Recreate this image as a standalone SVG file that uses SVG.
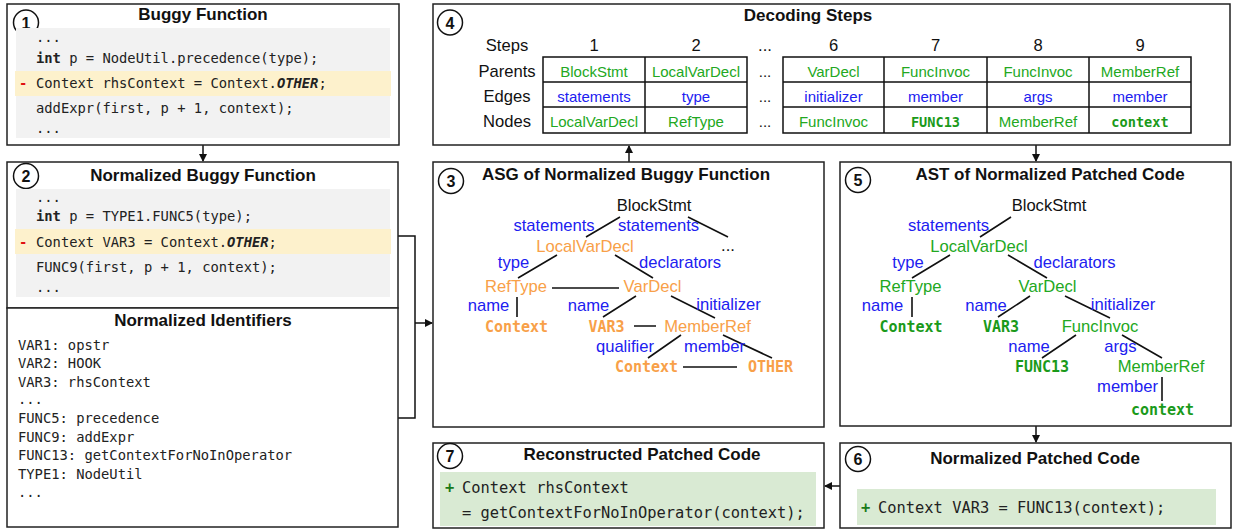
<svg xmlns="http://www.w3.org/2000/svg" width="1233" height="529" viewBox="0 0 1233 529">
<style>
.box{fill:#fff;stroke:#222;stroke-width:1.5}
.circ{fill:#fff;stroke:#111;stroke-width:1.5}
.num{font-family:"Liberation Sans",Arial,sans-serif;font-weight:bold;font-size:16px;text-anchor:middle;fill:#111}
.title{font-family:"Liberation Sans",Arial,sans-serif;font-weight:bold;font-size:17px;text-anchor:middle;fill:#111}
.code{font-family:"DejaVu Sans Mono","Liberation Mono",monospace;font-size:13.8px;fill:#222}
.codeL{font-family:"DejaVu Sans Mono","Liberation Mono",monospace;font-size:15.4px;fill:#222}
.gray{fill:#f2f2f2}
.hl{fill:#fdf1cc}
.grn{fill:#d9ead3}
.minus{fill:#e01010;font-weight:bold}
.plus{fill:#1a7a1a;font-weight:bold}
.lab{font-family:"Liberation Sans",Arial,sans-serif;font-size:16.6px;text-anchor:middle;fill:#111}
.cell{font-family:"Liberation Sans",Arial,sans-serif;font-size:15px;text-anchor:middle}
.cellm{font-family:"DejaVu Sans Mono","Liberation Mono",monospace;font-size:13.6px;font-weight:bold;text-anchor:middle;fill:#1a9a1a}
.g{fill:#22a822}
.b{fill:#2020f0}
.t{font-family:"Liberation Sans",Arial,sans-serif;font-size:16.6px;text-anchor:middle}
.tm{font-family:"DejaVu Sans Mono","Liberation Mono",monospace;font-size:15px;font-weight:bold;text-anchor:middle}
.o{fill:#f8a048}
.gd{fill:#1a9a1a}
.k{fill:#111}
.e{stroke:#111;stroke-width:1.6;fill:none}
.tbl{fill:none;stroke:#111;stroke-width:1.5}
.conn{stroke:#111;stroke-width:1.5;fill:none}
</style>
<defs>
<marker id="arr" markerWidth="8" markerHeight="8" refX="7" refY="4" orient="auto" markerUnits="userSpaceOnUse">
<path d="M0,0 L8,4 L0,8 Z" fill="#111"/>
</marker>
</defs>

<g id="connectors">
<line class="conn" x1="203" y1="145" x2="203" y2="161" marker-end="url(#arr)"/>
<polyline class="conn" points="398,236 415,236 415,418 398,418"/>
<line class="conn" x1="415" y1="323" x2="432" y2="323" marker-end="url(#arr)"/>
<line class="conn" x1="629" y1="162" x2="629" y2="146" marker-end="url(#arr)"/>
<line class="conn" x1="1036" y1="145" x2="1036" y2="161" marker-end="url(#arr)"/>
<line class="conn" x1="1036" y1="426" x2="1036" y2="442" marker-end="url(#arr)"/>
<line class="conn" x1="840" y1="486" x2="825" y2="486" marker-end="url(#arr)"/>
</g>

<g id="node1">
<rect class="box" x="7" y="4" width="392" height="141"/>
<circle class="circ" cx="26" cy="22.5" r="12.5"/>
<text class="num" x="26" y="28.5">1</text>
<text class="title" x="203" y="20">Buggy Function</text>
<rect class="gray" x="16" y="28" width="374" height="110"/>
<rect class="hl" x="15" y="71" width="376" height="25"/>
<text class="code" x="36" y="42">...</text>
<text class="code" x="36" y="63" xml:space="preserve"><tspan font-weight="bold">int</tspan> p = NodeUtil.precedence(type);</text>
<text class="code minus" x="19" y="88">-</text>
<text class="code" x="36" y="88" xml:space="preserve">Context rhsContext = Context.<tspan font-weight="bold" font-style="italic">OTHER</tspan>;</text>
<text class="code" x="36" y="113">addExpr(first, p + 1, context);</text>
<text class="code" x="36" y="133">...</text>
</g>

<g id="node2">
<rect class="box" x="7" y="162" width="391" height="146"/>
<circle class="circ" cx="26" cy="176" r="12.5"/>
<text class="num" x="26" y="182">2</text>
<text class="title" x="203" y="181">Normalized Buggy Function</text>
<rect class="gray" x="16" y="189" width="374" height="108"/>
<rect class="hl" x="15" y="229" width="376" height="25"/>
<text class="code" x="36" y="202">...</text>
<text class="code" x="36" y="221" xml:space="preserve"><tspan font-weight="bold">int</tspan> p = TYPE1.FUNC5(type);</text>
<text class="code minus" x="19" y="247">-</text>
<text class="code" x="36" y="247" xml:space="preserve">Context VAR3 = Context.<tspan font-weight="bold" font-style="italic">OTHER</tspan>;</text>
<text class="code" x="36" y="272">FUNC9(first, p + 1, context);</text>
<text class="code" x="36" y="292">...</text>
</g>

<g id="identifiers">
<rect class="box" x="7" y="308" width="391" height="219"/>
<text class="title" x="203" y="326">Normalized Identifiers</text>
<text class="code" x="18" y="350">VAR1: opstr</text>
<text class="code" x="18" y="368">VAR2: HOOK</text>
<text class="code" x="18" y="387">VAR3: rhsContext</text>
<text class="code" x="18" y="404">...</text>
<text class="code" x="18" y="423">FUNC5: precedence</text>
<text class="code" x="18" y="442">FUNC9: addExpr</text>
<text class="code" x="18" y="460">FUNC13: getContextForNoInOperator</text>
<text class="code" x="18" y="479">TYPE1: NodeUtil</text>
<text class="code" x="18" y="497">...</text>
</g>

<g id="node4">
<rect class="box" x="433" y="4" width="797" height="141"/>
<circle class="circ" cx="450" cy="22.5" r="12.5"/>
<text class="num" x="450" y="28.5">4</text>
<text class="title" x="808" y="21" font-size="18.5">Decoding Steps</text>
<text class="lab" x="507" y="51">Steps</text>
<text class="lab" x="507" y="77">Parents</text>
<text class="lab" x="507" y="102">Edges</text>
<text class="lab" x="507" y="127">Nodes</text>
<text class="lab" x="594" y="51">1</text>
<text class="lab" x="696" y="51">2</text>
<text class="lab" x="765" y="51">...</text>
<text class="lab" x="833.5" y="51">6</text>
<text class="lab" x="935.5" y="51">7</text>
<text class="lab" x="1038" y="51">8</text>
<text class="lab" x="1140" y="51">9</text>
<text class="cell k" x="765" y="77">...</text>
<text class="cell k" x="765" y="102">...</text>
<text class="cell k" x="765" y="127">...</text>
<path class="tbl" d="M543,57 H747 V133 H543 Z M543,82 H747 M543,107 H747 M645,57 V133"/>
<path class="tbl" d="M783,57 H1191 V133 H783 Z M783,82 H1191 M783,107 H1191 M884,57 V133 M987,57 V133 M1089,57 V133"/>
<text class="cell g" x="594" y="77">BlockStmt</text>
<text class="cell g" x="696" y="77">LocalVarDecl</text>
<text class="cell g" x="833.5" y="77">VarDecl</text>
<text class="cell g" x="935.5" y="77">FuncInvoc</text>
<text class="cell g" x="1038" y="77">FuncInvoc</text>
<text class="cell g" x="1140" y="77">MemberRef</text>
<text class="cell b" x="594" y="102">statements</text>
<text class="cell b" x="696" y="102">type</text>
<text class="cell b" x="833.5" y="102">initializer</text>
<text class="cell b" x="935.5" y="102">member</text>
<text class="cell b" x="1038" y="102">args</text>
<text class="cell b" x="1140" y="102">member</text>
<text class="cell g" x="594" y="127">LocalVarDecl</text>
<text class="cell g" x="696" y="127">RefType</text>
<text class="cell g" x="833.5" y="127">FuncInvoc</text>
<text class="cellm" x="935.5" y="127">FUNC13</text>
<text class="cell g" x="1038" y="127">MemberRef</text>
<text class="cellm" x="1140" y="127">context</text>
</g>

<g id="node3">
<rect class="box" x="433" y="162" width="391" height="265"/>
<circle class="circ" cx="451" cy="181" r="12.5"/>
<text class="num" x="451" y="187">3</text>
<text class="title" x="626" y="180">ASG of Normalized Buggy Function</text>
<path class="e" d="M620,217 L586,237 M688,217 L728,237 M557,255 L518,278 M615,255 L653,278 M552,288 L619,288 M517,297 L517,317 M636,296 L603,317 M671,296 L715,318 M634,326 L656,326 M681,335 L648,358 M723,335 L772,358 M683,367 L737,367"/>
<text class="t k" x="654" y="211">BlockStmt</text>
<text class="t b" x="554" y="231">statements</text>
<text class="t b" x="658.5" y="231">statements</text>
<text class="t k" x="728" y="251">...</text>
<text class="t o" x="585" y="252">LocalVarDecl</text>
<text class="t b" x="513.5" y="268">type</text>
<text class="t b" x="680" y="268">declarators</text>
<text class="t o" x="516" y="292">RefType</text>
<text class="t o" x="652.5" y="292">VarDecl</text>
<text class="t b" x="488.5" y="311">name</text>
<text class="t b" x="588.5" y="311">name</text>
<text class="t b" x="728.5" y="310">initializer</text>
<text class="tm o" x="516.5" y="332">Context</text>
<text class="tm o" x="606.5" y="332">VAR3</text>
<text class="t o" x="707.5" y="332">MemberRef</text>
<text class="t b" x="625" y="352">qualifier</text>
<text class="t b" x="714.5" y="352">member</text>
<text class="tm o" x="646.5" y="372">Context</text>
<text class="tm o" x="770.5" y="372">OTHER</text>
</g>

<g id="node5">
<rect class="box" x="840" y="162" width="391" height="264"/>
<circle class="circ" cx="858" cy="180" r="12.5"/>
<text class="num" x="858" y="186">5</text>
<text class="title" x="1050" y="180">AST of Normalized Patched Code</text>
<path class="e" d="M1011,217 L980,237 M950,255 L912,278 M1008,255 L1047,278 M912,297 L912,317 M1030,296 L998,317 M1065,296 L1110,318 M1076,335 L1042,358 M1122,335 L1162,358 M1162,377 L1162,401"/>
<text class="t k" x="1049" y="211">BlockStmt</text>
<text class="t b" x="948.5" y="231">statements</text>
<text class="t g" x="979" y="252">LocalVarDecl</text>
<text class="t b" x="908" y="268">type</text>
<text class="t b" x="1074.5" y="268">declarators</text>
<text class="t g" x="910.5" y="292">RefType</text>
<text class="t g" x="1047.5" y="292">VarDecl</text>
<text class="t b" x="882.5" y="311">name</text>
<text class="t b" x="986" y="311">name</text>
<text class="t b" x="1123" y="310">initializer</text>
<text class="tm gd" x="911" y="332">Context</text>
<text class="tm gd" x="1001" y="332">VAR3</text>
<text class="t g" x="1100" y="332">FuncInvoc</text>
<text class="t b" x="1029" y="352">name</text>
<text class="t b" x="1120.5" y="352">args</text>
<text class="tm gd" x="1042" y="372">FUNC13</text>
<text class="t g" x="1161" y="372">MemberRef</text>
<text class="t b" x="1127.5" y="392">member</text>
<text class="tm gd" x="1162.5" y="415">context</text>
</g>

<g id="node6">
<rect class="box" x="840" y="443" width="391" height="85"/>
<circle class="circ" cx="858" cy="459" r="12.5"/>
<text class="num" x="858" y="465">6</text>
<text class="title" x="1035" y="464">Normalized Patched Code</text>
<rect class="grn" x="857" y="489" width="359" height="36"/>
<text class="codeL plus" x="861" y="513">+</text>
<text class="codeL" x="878" y="513">Context VAR3 = FUNC13(context);</text>
</g>

<g id="node7">
<rect class="box" x="433" y="443" width="391" height="85"/>
<circle class="circ" cx="450" cy="456" r="12.5"/>
<text class="num" x="450" y="462">7</text>
<text class="title" x="642" y="460">Reconstructed Patched Code</text>
<rect class="grn" x="440" y="472" width="376" height="54"/>
<text class="codeL plus" x="445" y="493">+</text>
<text class="codeL" x="462" y="493">Context rhsContext</text>
<text class="codeL" x="462" y="518">= getContextForNoInOperator(context);</text>
</g>
</svg>
